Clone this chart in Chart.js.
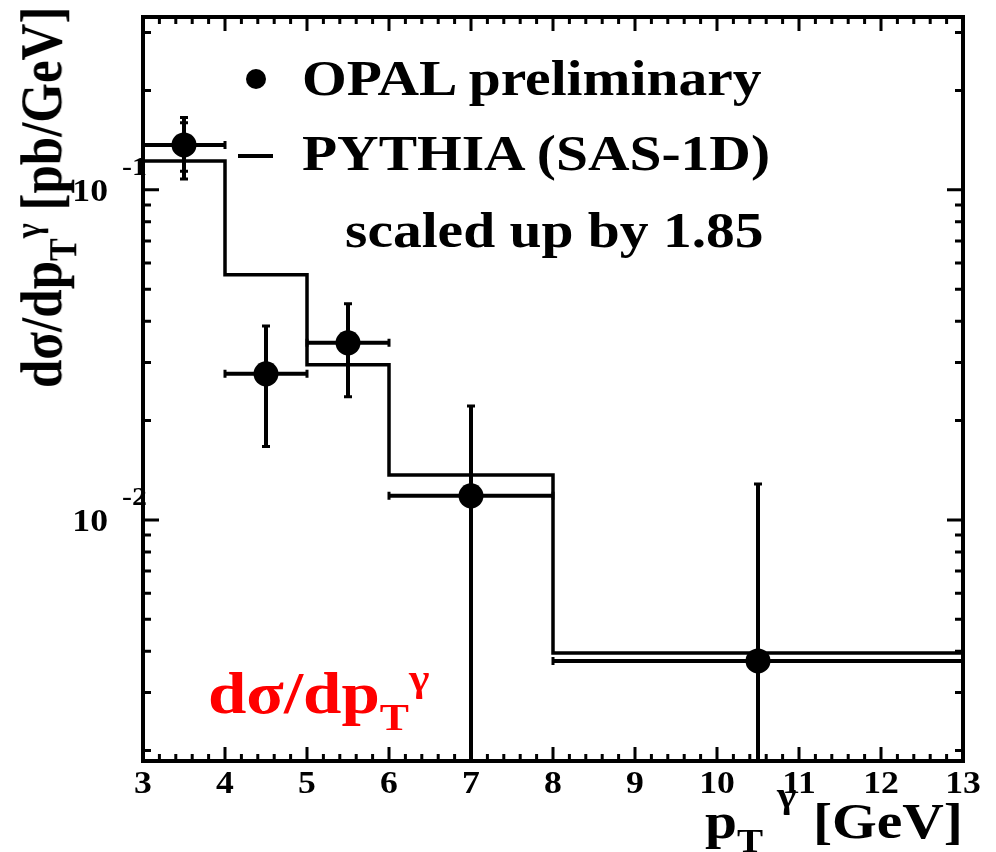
<!DOCTYPE html>
<html>
<head>
<meta charset="utf-8">
<title>OPAL dsigma/dpT</title>
<script src="https://cdn.jsdelivr.net/npm/chart.js@4.4.1/dist/chart.umd.min.js"></script>
<style>
    body { margin: 0; background: #fff; }
    #wrap { position: relative; width: 996px; height: 852px; overflow: hidden; }
    #chart { position: absolute; left: 0; top: 0; }
    .lbl {
        position: absolute;
        font-family: "Liberation Serif", "Times New Roman", serif;
        font-weight: bold;
        white-space: nowrap;
        line-height: 1;
        transform-origin: 0 0;
        transform: scaleX(1.15);
        color: #000;
    }
    .sub, .sup { position: relative; }
</style>
</head>
<body>
<div id="wrap">
    <canvas id="chart" width="996" height="852"></canvas>

    <!-- legend -->
    <div style="position:absolute;left:246px;top:69px;width:20px;height:20px;border-radius:50%;background:#000"></div>
    <div style="position:absolute;left:238px;top:154px;width:35px;height:4px;background:#000"></div>
    <div class="lbl" style="left:302px;top:53px;font-size:50px">OPAL preliminary</div>
    <div class="lbl" style="left:302px;top:128px;font-size:50px">PYTHIA (SAS-1D)</div>
    <div class="lbl" style="left:345px;top:205px;font-size:50px">scaled up by 1.85</div>

    <!-- axis titles -->
    <div class="lbl" style="left:13px;top:388px;font-size:51px;transform:scaleX(1.15) rotate(-90deg)">dσ/dp<span class="sub" style="font-size:34px;top:13px">T</span><span class="sup" style="font-size:32px;top:-18px">γ</span> [pb/GeV]</div>
    <div class="lbl" style="left:705px;top:796px;font-size:50px">p<span class="sub" style="font-size:34px;top:14px">T</span><span class="sup" style="font-size:36px;top:-31px;margin-left:12px">γ</span><span style="margin-left:2px"> [GeV]</span></div>

    <!-- red label -->
    <div class="lbl" style="left:208px;top:663px;font-size:60px;color:#ff0000">dσ/dp<span class="sub" style="font-size:38px;top:17px">T</span><span class="sup" style="font-size:38px;top:-22px">γ</span></div>
</div>

<script>
// PYTHIA (SAS-1D) histogram, scaled by 1.85: bin edges and contents
const binEdges = [3, 4, 5, 6, 8, 13];
const pythiaValues = [0.1224, 0.0553, 0.0295, 0.01369, 0.00395];

// OPAL preliminary points
const opalX = [3.5, 4.5, 5.5, 7, 10.5];
const opalXLow = [3, 4, 5, 6, 8];
const opalXHigh = [4, 5, 6, 8, 13];
const opalY = [0.1368, 0.0277, 0.0344, 0.01183, 0.00374];
const opalErr = [0.029, 0.011, 0.0108, 0.0103, 0.0091];
const opalStatErr = [0.023, 0.011, 0.0108, 0.0103, 0.0091];

// axes
const xMin = 3;
const xMax = 13;
const yMin = 0.00186;
const yMax = 0.334;
const xTickLabels = ["3", "4", "5", "6", "7", "8", "9", "10", "11", "12", "13"];
const yDecades = [0.01, 0.1];
const yDecadeLabels = ["-2", "-1"];

const FONT = "'Liberation Serif', 'Times New Roman', serif";
const STRETCH = 1.15;

function stretchedText(ctx, text, x, y, align, font) {
    ctx.save();
    ctx.font = font;
    ctx.textAlign = align;
    ctx.textBaseline = "alphabetic";
    ctx.translate(x, y);
    ctx.scale(STRETCH, 1);
    ctx.fillText(text, 0, 0);
    ctx.restore();
}

// error bars drawn through the chart scales
const errorBars = {
    id: "errorBars",
    afterDatasetsDraw(chart) {
        const { ctx, chartArea: a, scales: { x, y } } = chart;
        ctx.save();
        ctx.beginPath();
        ctx.rect(a.left, a.top, a.right - a.left, a.bottom - a.top);
        ctx.clip();
        ctx.strokeStyle = "#000";
        ctx.lineCap = "butt";

        const yPix = (v) => (v <= yMin ? a.bottom + 10 : y.getPixelForValue(v));

        opalX.forEach((xv, i) => {
            const px = x.getPixelForValue(xv);
            const py = y.getPixelForValue(opalY[i]);
            const xl = x.getPixelForValue(opalXLow[i]);
            const xh = x.getPixelForValue(opalXHigh[i]);
            const yt = yPix(opalY[i] + opalErr[i]);
            const yb = yPix(opalY[i] - opalErr[i]);

            ctx.lineWidth = 4;
            ctx.beginPath();
            ctx.moveTo(xl, py);
            ctx.lineTo(xh, py);
            ctx.moveTo(px, yt);
            ctx.lineTo(px, yb);
            ctx.stroke();

            // end caps
            ctx.lineWidth = 3;
            ctx.beginPath();
            ctx.moveTo(px - 4, yt); ctx.lineTo(px + 4, yt);
            ctx.moveTo(px - 4, yb); ctx.lineTo(px + 4, yb);
            ctx.moveTo(xl, py - 4); ctx.lineTo(xl, py + 4);
            ctx.moveTo(xh, py - 4); ctx.lineTo(xh, py + 4);
            // inner (statistical) caps
            if (opalStatErr[i] < opalErr[i]) {
                const st = yPix(opalY[i] + opalStatErr[i]);
                const sb = yPix(opalY[i] - opalStatErr[i]);
                ctx.moveTo(px - 4, st); ctx.lineTo(px + 4, st);
                ctx.moveTo(px - 4, sb); ctx.lineTo(px + 4, sb);
            }
            ctx.stroke();
        });
        ctx.restore();
    }
};

// ROOT style frame with inward ticks on all four sides, plus tick labels
const frameTicks = {
    id: "frameTicks",
    afterDraw(chart) {
        const { ctx, chartArea: a, scales: { x, y } } = chart;
        ctx.save();
        ctx.strokeStyle = "#000";
        ctx.fillStyle = "#000";
        ctx.lineWidth = 3;
        ctx.beginPath();

        // x ticks every 0.2, major on integers
        for (let i = 0; i <= 50; i++) {
            const v = xMin + i * 0.2;
            const px = x.getPixelForValue(v);
            const len = i % 5 === 0 ? 14 : 7;
            ctx.moveTo(px, a.bottom); ctx.lineTo(px, a.bottom - len);
            ctx.moveTo(px, a.top); ctx.lineTo(px, a.top + len);
        }

        // y ticks: 1..9 per decade
        for (let e = -3; e <= -1; e++) {
            for (let m = 1; m <= 9; m++) {
                const v = m * Math.pow(10, e);
                if (v < yMin || v > yMax) continue;
                const py = y.getPixelForValue(v);
                const len = m === 1 ? 16 : 8;
                ctx.moveTo(a.left, py); ctx.lineTo(a.left + len, py);
                ctx.moveTo(a.right, py); ctx.lineTo(a.right - len, py);
            }
        }
        ctx.stroke();

        // frame
        ctx.lineWidth = 4;
        ctx.strokeRect(a.left, a.top, a.right - a.left, a.bottom - a.top);

        // x tick labels
        xTickLabels.forEach((t, i) => {
            stretchedText(ctx, t, x.getPixelForValue(xMin + i), a.bottom + 32, "center", "bold 31px " + FONT);
        });

        // y tick labels 10^n
        yDecades.forEach((v, i) => {
            const py = y.getPixelForValue(v);
            stretchedText(ctx, "10", 108, py + 11, "right", "bold 31px " + FONT);
            stretchedText(ctx, yDecadeLabels[i], 122, py - 15, "left", "bold 26px " + FONT);
        });
        ctx.restore();
    }
};

function buildChart() {
    const histPoints = binEdges.map((edge, i) => ({
        x: edge,
        y: pythiaValues[Math.min(i, pythiaValues.length - 1)]
    }));
    const opalPoints = opalX.map((xv, i) => ({ x: xv, y: opalY[i] }));

    new Chart(document.getElementById("chart"), {
        type: "scatter",
        data: {
            datasets: [
                {
                    label: "OPAL preliminary",
                    data: opalPoints,
                    pointRadius: 12.5,
                    pointBackgroundColor: "#000",
                    pointBorderWidth: 0,
                },
                {
                    type: "line",
                    label: "PYTHIA (SAS-1D)",
                    data: histPoints,
                    stepped: true,
                    borderColor: "#000",
                    borderWidth: 3.5,
                    pointRadius: 0,
                    fill: false,
                },
            ],
        },
        options: {
            responsive: false,
            animation: false,
            layout: { padding: { left: 143, top: 17, right: 33, bottom: 91 } },
            scales: {
                x: { type: "linear", min: xMin, max: xMax, display: false },
                y: { type: "logarithmic", min: yMin, max: yMax, display: false },
            },
            plugins: {
                legend: { display: false },
                tooltip: { enabled: false },
            },
        },
        plugins: [errorBars, frameTicks],
    });
}

document.fonts.load("bold 31px 'Liberation Serif'").then(buildChart, buildChart);
</script>
</body>
</html>
